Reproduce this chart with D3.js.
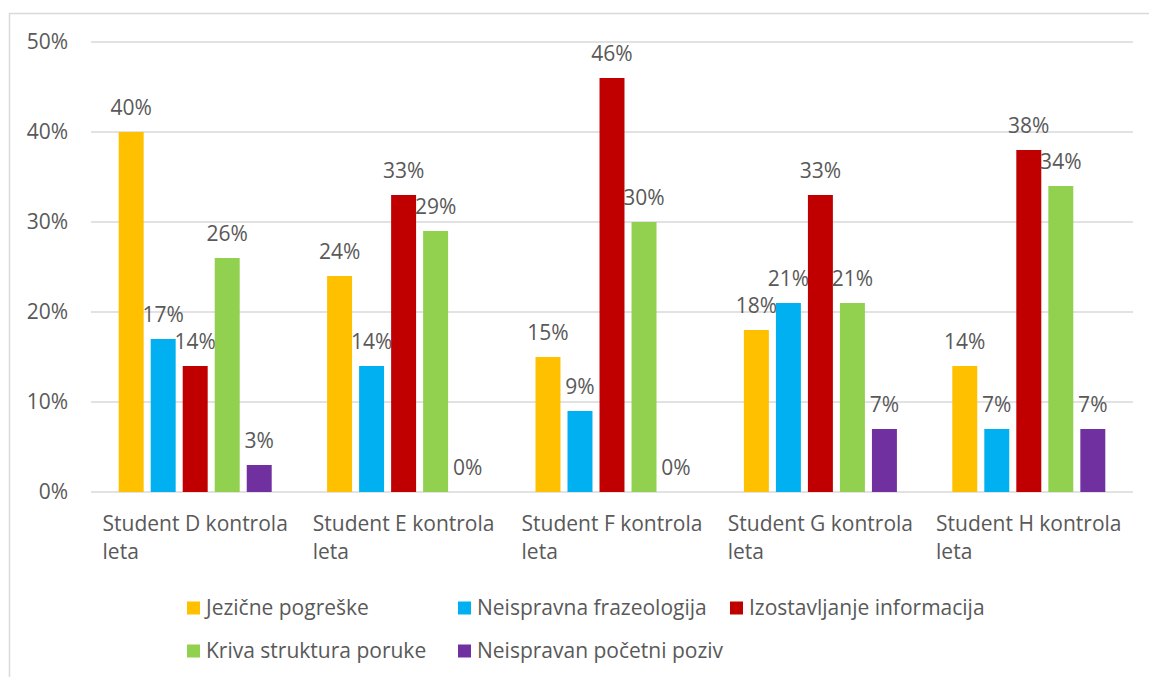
<!DOCTYPE html>
<html>
<head>
<meta charset="utf-8">
<script src="https://cdn.jsdelivr.net/npm/d3@7"></script>
<style>
  body { margin: 0; background: #fff; }
  text { font-family: "Open Sans", "Noto Sans", sans-serif; fill: #595959; }
</style>
</head>
<body>
<svg id="chart" width="1149" height="677"></svg>
<script>
// podaci
const studenti = ["Student D kontrola leta", "Student E kontrola leta", "Student F kontrola leta", "Student G kontrola leta", "Student H kontrola leta"];
const kategorije = ["Jezične pogreške", "Neispravna frazeologija", "Izostavljanje informacija", "Kriva struktura poruke", "Neispravan početni poziv"];
const boje = ["#ffc000", "#00b0f0", "#c00000", "#92d050", "#7030a0"];
const jezicne = [40, 24, 15, 18, 14];
const frazeologija = [17, 14, 9, 21, 7];
const izostavljanje = [14, 33, 46, 33, 38];
const struktura = [26, 29, 30, 21, 34];
const poziv = [3, 0, 0, 7, 7];
const yTicks = [0, 10, 20, 30, 40, 50];

const serije = [jezicne, frazeologija, izostavljanje, struktura, poziv];

const svg = d3.select("#chart");

// okvir
svg.append("path")
    .attr("d", "M9.5,677 V13.5 H1149")
    .attr("fill", "none")
    .attr("stroke", "#d9d9d9")
    .attr("stroke-width", 1.5);

const x0 = d3.scaleBand()
    .domain(studenti)
    .range([91, 1133])
    .paddingInner(0.232)
    .paddingOuter(0.116);

const x1 = d3.scaleBand()
    .domain(kategorije)
    .range([0, x0.bandwidth()])
    .paddingInner(0.22)
    .paddingOuter(0.11);

const y = d3.scaleLinear()
    .domain([0, 50])
    .range([492, 42]);

// mreza
svg.append("g")
    .selectAll("line")
    .data(yTicks)
    .enter()
    .append("line")
    .attr("x1", 91)
    .attr("x2", 1133)
    .attr("y1", d => y(d))
    .attr("y2", d => y(d))
    .attr("stroke", "#d9d9d9")
    .attr("stroke-width", 1.5);

svg.append("g")
    .selectAll("text")
    .data(yTicks)
    .enter()
    .append("text")
    .attr("x", 68)
    .attr("y", d => y(d))
    .attr("dy", "0.35em")
    .attr("text-anchor", "end")
    .attr("font-size", 21)
    .text(d => d + "%");

// stupci
const grupe = svg.append("g")
    .selectAll("g")
    .data(studenti)
    .enter()
    .append("g")
    .attr("transform", d => `translate(${x0(d)},0)`);

const stupci = grupe.selectAll("g")
    .data((s, i) => kategorije.map((k, j) => ({ k, j, v: serije[j][i] })))
    .enter()
    .append("g");

stupci.append("rect")
    .attr("x", d => x1(d.k))
    .attr("width", x1.bandwidth())
    .attr("y", d => y(d.v))
    .attr("height", d => y(0) - y(d.v))
    .attr("fill", d => boje[d.j]);

stupci.append("text")
    .attr("x", d => x1(d.k) + x1.bandwidth() / 2)
    .attr("y", d => y(d.v) - 17)
    .attr("text-anchor", "middle")
    .attr("font-size", 21)
    .text(d => d.v + "%");

// oznake osi x
svg.append("g")
    .selectAll("text")
    .data(studenti)
    .enter()
    .append("text")
    .attr("font-size", 21)
    .each(function (d) {
        const t = d3.select(this);
        const prvi = d.replace(/ leta$/, "");
        const l1 = t.append("tspan").attr("y", 531).text(prvi);
        const w = l1.node().getComputedTextLength();
        const left = x0(d) + x0.bandwidth() / 2 - w / 2;
        l1.attr("x", left);
        t.append("tspan").attr("x", left).attr("y", 559).text("leta");
    });

// legenda
const legendaPoz = [[187, 608], [458, 608], [730, 608], [187, 651], [458, 651]];
const legenda = svg.append("g")
    .selectAll("g")
    .data(kategorije)
    .enter()
    .append("g")
    .attr("transform", (d, i) => `translate(${legendaPoz[i][0]},${legendaPoz[i][1]})`);

legenda.append("rect")
    .attr("x", 0)
    .attr("y", -6.5)
    .attr("width", 13)
    .attr("height", 13)
    .attr("fill", (d, i) => boje[i]);

legenda.append("text")
    .attr("x", 19)
    .attr("y", 0)
    .attr("dy", "0.35em")
    .attr("font-size", 21)
    .text(d => d);
</script>
</body>
</html>
